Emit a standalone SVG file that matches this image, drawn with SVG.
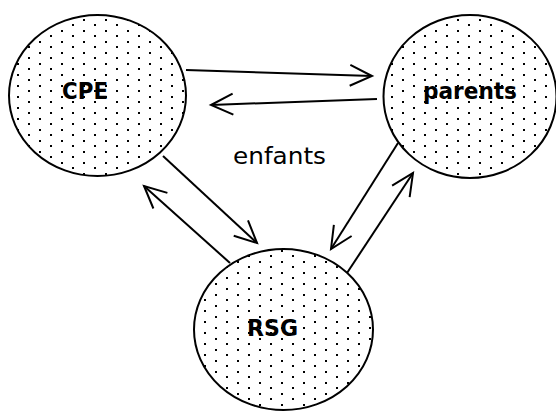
<svg xmlns="http://www.w3.org/2000/svg" width="556" height="411" viewBox="0 0 556 411">
<style>
.node ellipse{fill:url(#dots);stroke:#000;stroke-width:2}
.lbl{font-family:"DejaVu Sans","Liberation Sans",sans-serif;font-weight:bold;font-size:23px;fill:#000;text-anchor:middle}
.txt{font-family:"DejaVu Sans","Liberation Sans",sans-serif;font-size:23px;fill:#000;text-anchor:middle}
#connectors line{stroke:#000;stroke-width:2;fill:none;marker-end:url(#arr)}
</style>
<defs>
<pattern id="dots" patternUnits="userSpaceOnUse" x="0" y="0" width="22" height="11">
<rect width="22" height="11" fill="#fff"/>
<rect x="17" y="8" width="2" height="2" fill="#000"/>
<rect x="6" y="2" width="2" height="2" fill="#000"/>
</pattern>
<marker id="arr" markerUnits="userSpaceOnUse" viewBox="-24 -12 26 24" refX="0" refY="0" markerWidth="26" markerHeight="24" orient="auto" overflow="visible">
<path d="M-22,-10.5 L0,0 L-22,10.5" fill="none" stroke="#000" stroke-width="2" stroke-linejoin="miter"/>
</marker>
</defs>
<rect width="556" height="411" fill="#fff"/>
<g id="CPE" class="node">
<ellipse cx="97.5" cy="95.5" rx="88.5" ry="80.5"/>
<text class="lbl" x="85" y="99" textLength="46" lengthAdjust="spacingAndGlyphs">CPE</text>
</g>
<g id="parents" class="node">
<ellipse cx="470" cy="96.5" rx="86.5" ry="81.5"/>
<text class="lbl" x="470" y="99" textLength="94" lengthAdjust="spacingAndGlyphs">parents</text>
</g>
<g id="RSG" class="node">
<ellipse cx="283.5" cy="329.5" rx="89.5" ry="80.5"/>
<text class="lbl" x="272.5" y="336" textLength="51" lengthAdjust="spacingAndGlyphs">RSG</text>
</g>
<text id="enfants" class="txt" x="279.5" y="164" textLength="93" lengthAdjust="spacingAndGlyphs">enfants</text>
<g id="connectors">
<line x1="186" y1="70" x2="372" y2="76"/>
<line x1="377" y1="99" x2="211" y2="105"/>
<line x1="163" y1="156" x2="257" y2="243"/>
<line x1="230" y1="263" x2="144" y2="186"/>
<line x1="398" y1="143" x2="331" y2="249"/>
<line x1="347" y1="273" x2="413" y2="173"/>
</g>
</svg>
